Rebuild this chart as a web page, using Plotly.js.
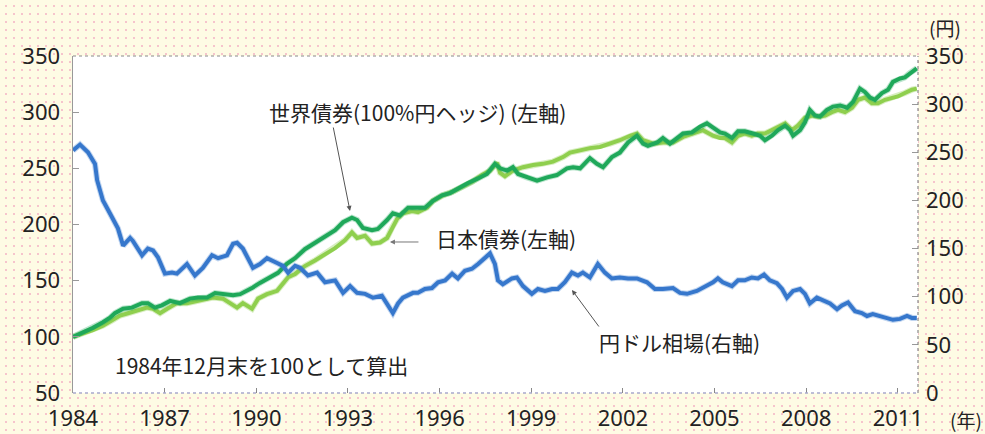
<!DOCTYPE html>
<html>
<head>
<meta charset="utf-8">
<script src="https://cdn.plot.ly/plotly-3.0.1.min.js"></script>
<style>
html,body{margin:0;padding:0;}
body{
  width:985px;height:434px;overflow:hidden;
  background-color:#fefbe4;
  background-image:radial-gradient(circle, #f6c4cc 0.9px, rgba(0,0,0,0) 1.3px);
  background-size:8px 8px;
  background-position:2px 2px;
}
#chart{width:985px;height:434px;}
</style>
</head>
<body>
<div id="chart"></div>
<script>
// ---- data ----
// 円ドル相場 (右軸, 円)
const yenYears = [1984.00,1984.23,1984.49,1984.72,1984.79,1984.98,1985.15,1985.37,1985.47,1985.64,1985.87,1985.96,1986.26,1986.45,1986.62,1986.78,1987.01,1987.24,1987.40,1987.73,1987.99,1988.25,1988.55,1988.75,1989.04,1989.24,1989.37,1989.56,1989.89,1990.12,1990.35,1990.68,1990.87,1991.04,1991.27,1991.43,1991.69,1991.99,1992.25,1992.58,1992.84,1993.07,1993.30,1993.56,1993.82,1994.11,1994.31,1994.47,1994.64,1994.80,1995.13,1995.29,1995.52,1995.75,1995.95,1996.18,1996.41,1996.60,1996.83,1997.06,1997.26,1997.49,1997.65,1997.81,1997.91,1998.07,1998.37,1998.53,1998.73,1999.02,1999.22,1999.45,1999.68,1999.87,2000.10,2000.33,2000.53,2000.69,2000.92,2001.18,2001.41,2001.64,2001.90,2002.17,2002.46,2002.79,2003.05,2003.31,2003.64,2003.87,2004.10,2004.42,2004.62,2004.95,2005.11,2005.27,2005.57,2005.77,2005.99,2006.22,2006.42,2006.62,2006.81,2007.04,2007.21,2007.37,2007.57,2007.80,2007.96,2008.12,2008.35,2008.55,2008.78,2009.01,2009.17,2009.37,2009.60,2009.82,2009.99,2010.18,2010.41,2010.64,2010.84,2011.07,2011.30,2011.46,2011.62];
const yenValues = [252,258,250,238,221,200,190,176,171,153,161,158,143,150,148,141,124,125,124,134,122,130,143,140,143,155,156,150,130,134,140,135,132,125,132,130,122,125,115,117,104,111,104,103,99,101,91,83,93,99,104,104,108,109,115,117,124,119,127,129,134,140,145,134,117,113,119,120,111,103,108,106,108,108,115,125,122,125,120,134,125,119,120,119,119,115,108,108,109,104,103,106,109,115,119,115,111,117,117,120,119,123,117,114,108,99,106,108,103,93,99,96,93,87,91,94,85,83,80,82,80,78,76,77,80,78,78];

// 世界債券(100%円ヘッジ) (左軸)
const worldYears = [1984.00,1984.33,1984.65,1984.98,1985.21,1985.37,1985.64,1985.93,1986.26,1986.45,1986.68,1986.91,1987.18,1987.50,1987.83,1988.09,1988.39,1988.65,1988.91,1989.24,1989.47,1989.70,1989.89,1990.12,1990.45,1990.71,1991.00,1991.27,1991.59,1991.92,1992.25,1992.58,1992.84,1993.13,1993.30,1993.49,1993.79,1993.98,1994.28,1994.47,1994.70,1994.97,1995.26,1995.52,1995.78,1996.08,1996.34,1996.60,1996.93,1997.26,1997.55,1997.81,1997.98,1998.21,1998.40,1998.57,1998.86,1999.19,1999.52,1999.84,2000.17,2000.37,2000.60,2000.92,2001.15,2001.35,2001.64,2001.90,2002.17,2002.46,2002.66,2002.82,2003.12,2003.31,2003.54,2003.77,2003.97,2004.26,2004.52,2004.75,2004.95,2005.18,2005.34,2005.57,2005.77,2005.99,2006.26,2006.49,2006.65,2006.88,2007.08,2007.31,2007.47,2007.57,2007.80,2007.96,2008.12,2008.29,2008.45,2008.68,2008.88,2009.11,2009.34,2009.53,2009.76,2009.92,2010.09,2010.25,2010.48,2010.68,2010.84,2011.07,2011.23,2011.40,2011.62];
const worldValues = [100,104,108,113,117,121,125,126,130,130,126,128,132,130,134,135,135,139,138,137,138,141,144,148,153,157,165,170,178,184,190,195,202,206,204,197,195,196,204,210,208,215,215,215,221,226,228,232,237,241,245,254,250,248,251,245,242,239,242,244,250,251,250,259,254,251,260,264,273,279,272,270,273,277,272,277,281,282,287,290,286,282,281,277,283,283,281,279,275,279,284,288,284,279,284,291,302,297,296,302,305,306,304,309,321,318,313,311,317,320,327,330,331,335,339];

// 日本債券 (左軸)
const japanYears = [1984.00,1984.33,1984.65,1984.98,1985.31,1985.54,1985.80,1986.09,1986.42,1986.62,1986.85,1987.08,1987.40,1987.73,1988.06,1988.39,1988.58,1988.91,1989.14,1989.37,1989.56,1989.86,1990.06,1990.35,1990.68,1990.87,1991.04,1991.27,1991.59,1991.92,1992.25,1992.58,1992.90,1993.13,1993.30,1993.56,1993.79,1994.05,1994.28,1994.44,1994.61,1994.80,1995.10,1995.29,1995.59,1995.78,1996.11,1996.41,1996.73,1997.06,1997.39,1997.65,1997.88,1997.98,1998.14,1998.40,1998.73,1999.06,1999.38,1999.71,2000.04,2000.27,2000.60,2000.92,2001.25,2001.58,2001.90,2002.23,2002.46,2002.66,2002.99,2003.31,2003.64,2003.97,2004.29,2004.62,2004.95,2005.18,2005.34,2005.57,2005.77,2005.99,2006.22,2006.42,2006.65,2006.88,2007.08,2007.31,2007.54,2007.73,2007.96,2008.19,2008.39,2008.62,2008.84,2009.04,2009.27,2009.50,2009.70,2009.92,2010.15,2010.35,2010.58,2010.81,2011.00,2011.23,2011.46,2011.62];
const japanValues = [100,103,106,110,115,119,121,123,126,125,121,125,130,130,132,134,135,134,130,126,130,125,134,138,141,147,153,156,163,168,174,179,186,193,188,190,183,184,188,197,205,210,212,211,215,221,226,229,233,238,244,248,255,246,243,248,251,253,254,256,260,264,266,268,269,272,275,279,281,275,272,273,273,278,281,284,279,277,277,273,279,281,279,281,281,284,287,290,284,288,295,297,296,297,300,302,300,304,311,313,308,308,311,313,314,317,320,321];

const xTicks = [1984,1987,1990,1993,1996,1999,2002,2005,2008,2011];
const leftTicks = [50,100,150,200,250,300,350];
const rightTicks = [0,50,100,150,200,250,300,350];

const labels = {
  world: '世界債券(100%円ヘッジ) (左軸)',
  japan: '日本債券(左軸)',
  yen: '円ドル相場(右軸)',
  base: '1984年12月末を100として算出',
  yenUnit: '(円)',
  yearUnit: '(年)'
};

// ---- chart ----
const cBlue = '#3677cc', cDark = '#1fa85a', cLight = '#8fcf4e';
function lineTrace(x, y, color, axis, name, width, opacity) {
  return {x: x, y: y, yaxis: axis, type: 'scatter', mode: 'lines', opacity: opacity,
          line: {color: color, width: width}, hoverinfo: 'skip', name: name};
}
const traces = [
  lineTrace(yenYears, yenValues, cBlue, 'y2', labels.yen, 6, 0.3),
  lineTrace(yenYears, yenValues, cBlue, 'y2', labels.yen, 4, 1),
  lineTrace(japanYears, japanValues, cLight, 'y', labels.japan, 6, 0.35),
  lineTrace(japanYears, japanValues, cLight, 'y', labels.japan, 4, 1),
  lineTrace(worldYears, worldValues, cDark, 'y', labels.world, 6, 0.3),
  lineTrace(worldYears, worldValues, cDark, 'y', labels.world, 4, 1)
];

const tickFont = {family: 'Noto Sans, sans-serif', size: 22, color: '#222'};
const jpFont = {family: 'Noto Sans CJK JP, sans-serif', size: 21, color: '#222'};

const layout = {
  width: 985, height: 434,
  margin: {l: 73, r: 67, t: 56, b: 41},
  paper_bgcolor: 'rgba(0,0,0,0)',
  plot_bgcolor: '#ffffff',
  showlegend: false,
  xaxis: {
    range: [1984, 2011.66], tickvals: xTicks, ticktext: xTicks.map(String),
    ticks: 'inside', ticklen: 5, tickcolor: '#888', tickwidth: 1,
    showgrid: false, zeroline: false, showline: false,
    tickfont: tickFont, ticklabelstandoff: 10, fixedrange: true
  },
  yaxis: {
    range: [50, 350], tickvals: leftTicks,
    ticks: 'inside', ticklen: 6, tickcolor: '#999', tickwidth: 1,
    showgrid: false, zeroline: false, showline: true, linecolor: '#999', linewidth: 1.5,
    tickfont: tickFont, ticklabelstandoff: 7, fixedrange: true
  },
  yaxis2: {
    range: [0, 350], tickvals: rightTicks, overlaying: 'y', side: 'right',
    ticks: 'inside', ticklen: 6, tickcolor: '#999', tickwidth: 1,
    showgrid: false, zeroline: false, showline: false,
    tickfont: tickFont, ticklabelstandoff: 7, fixedrange: true
  },
  shapes: [
    {type: 'line', xref: 'paper', yref: 'paper', x0: 0, x1: 1, y0: 1, y1: 1,
     line: {color: '#8a8a8a', width: 1.2, dash: 'dot'}},
    {type: 'line', xref: 'paper', yref: 'paper', x0: 1, x1: 1, y0: 0, y1: 1,
     line: {color: '#8a8a8a', width: 1.2, dash: 'dot'}},
    {type: 'line', xref: 'paper', yref: 'paper', x0: 0, x1: 1, y0: 0, y1: 0,
     line: {color: '#a9a9cc', width: 1.5, dash: 'dot'}}
  ],
  annotations: [
    {xref: 'paper', yref: 'paper', x: 1.032, y: 1.086, text: labels.yenUnit, showarrow: false,
     font: {family: 'Noto Sans CJK JP, sans-serif', size: 19, color: '#222'}, xanchor: 'center', yanchor: 'middle'},
    {xref: 'paper', yref: 'paper', x: 1.0568, y: -0.080, text: labels.yearUnit, showarrow: false,
     font: {family: 'Noto Sans CJK JP, sans-serif', size: 19, color: '#222'}, xanchor: 'center', yanchor: 'middle'},
    {xref: 'paper', yref: 'paper', x: 0.408, y: 0.834, text: labels.world, showarrow: false,
     font: jpFont, xanchor: 'center', yanchor: 'middle'},
    {xref: 'paper', yref: 'paper', x: 0.5124, y: 0.460, text: labels.japan, showarrow: false,
     font: jpFont, xanchor: 'center', yanchor: 'middle'},
    {xref: 'paper', yref: 'paper', x: 0.7172, y: 0.1513, text: labels.yen, showarrow: false,
     font: jpFont, xanchor: 'center', yanchor: 'middle'},
    {xref: 'paper', yref: 'paper', x: 0.2225, y: 0.0831, text: labels.base, showarrow: false,
     font: jpFont, xanchor: 'center', yanchor: 'middle'},
    // arrows
    {xref: 'paper', yref: 'paper', x: 0.3278, y: 0.5401, text: '', showarrow: true,
     ax: -17, ay: -85, arrowhead: 2, arrowsize: 1, arrowwidth: 1, arrowcolor: '#555'},
    {xref: 'paper', yref: 'paper', x: 0.3751, y: 0.4481, text: '', showarrow: true,
     ax: 30, ay: 0, arrowhead: 2, arrowsize: 1, arrowwidth: 1, arrowcolor: '#777'},
    {xref: 'paper', yref: 'paper', x: 0.5905, y: 0.3056, text: '', showarrow: true,
     ax: 28, ay: 38, arrowhead: 2, arrowsize: 1, arrowwidth: 1, arrowcolor: '#555'}
  ]
};

Plotly.newPlot('chart', traces, layout, {staticPlot: true, displayModeBar: false});
</script>
</body>
</html>
